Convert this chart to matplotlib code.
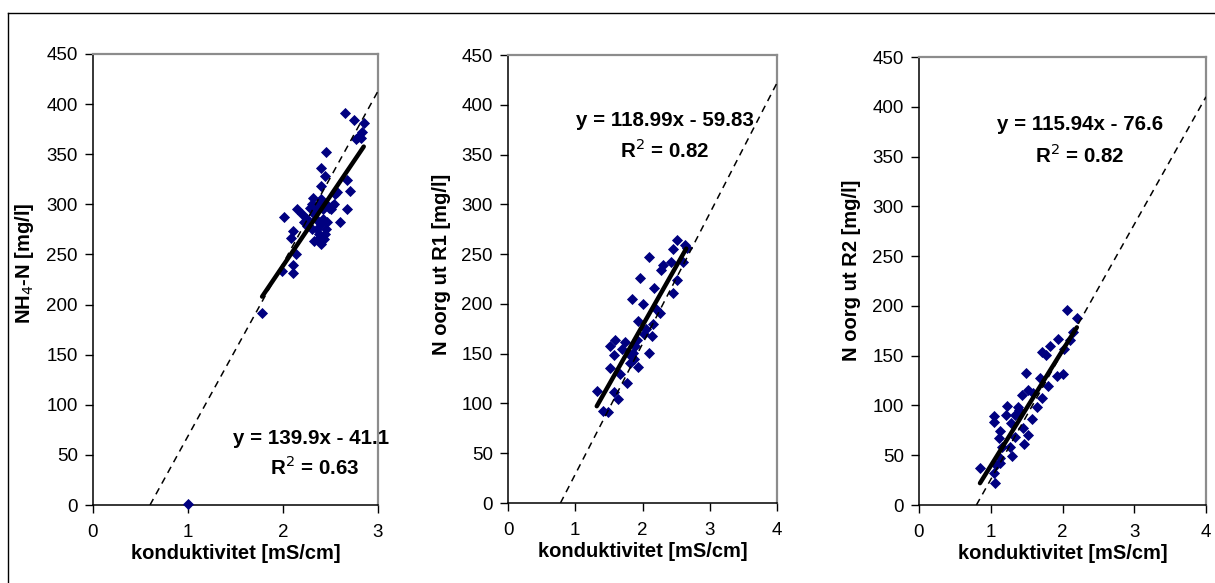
import matplotlib
matplotlib.use("Agg")
import matplotlib.pyplot as plt
from matplotlib.lines import Line2D
import numpy as np

plt.rcParams['font.family'] = ['Liberation Sans', 'DejaVu Sans']

# ---- data ----
p1_x = [1.00, 1.78, 1.99, 2.10, 2.11, 2.14, 2.08, 2.10, 2.01, 2.15, 2.20, 2.22, 2.25, 2.28,
        2.30, 2.32, 2.33, 2.35, 2.36, 2.37, 2.33, 2.40, 2.38, 2.40, 2.42, 2.44, 2.45, 2.46,
        2.42, 2.38, 2.40, 2.45, 2.48, 2.50, 2.52, 2.54, 2.55, 2.57, 2.40, 2.44, 2.40, 2.45,
        2.60, 2.67, 2.70, 2.67, 2.65, 2.75, 2.85, 2.83, 2.79, 2.77, 2.82, 2.30, 2.35, 2.25,
        2.43]
p1_y = [1, 192, 233, 231, 239, 250, 266, 273, 287, 295, 290, 282, 278, 296,
        300, 306, 290, 285, 275, 265, 263, 260, 270, 280, 285, 270, 275, 282,
        295, 300, 305, 300, 296, 295, 298, 300, 310, 312, 318, 328, 336, 352,
        282, 295, 313, 324, 391, 384, 381, 372, 367, 365, 366, 275, 295, 285,
        265]

p2_x = [2.52, 2.45, 2.63, 2.66, 2.60, 2.42, 2.31, 2.27, 2.52, 2.45, 2.09, 1.97, 2.17, 2.01,
        1.85, 2.26, 2.16, 2.14, 2.09, 1.94, 2.02, 1.92, 1.89, 1.86, 1.94, 1.81, 1.74, 1.70,
        1.59, 1.52, 1.57, 1.67, 1.77, 1.51, 1.33, 1.57, 1.64, 1.42, 1.49, 1.80, 1.88, 2.05,
        2.20]
p2_y = [264, 255, 259, 256, 242, 242, 239, 234, 224, 211, 247, 226, 216, 200,
        205, 191, 180, 168, 151, 183, 170, 164, 158, 151, 137, 141, 162, 155,
        164, 158, 149, 130, 121, 136, 113, 111, 104, 92, 91, 150, 145, 175,
        195]

p3_x = [2.06, 2.20, 2.15, 2.11, 1.94, 2.02, 1.83, 1.77, 1.71, 1.92, 2.00, 1.80, 1.69, 1.49,
        1.72, 1.52, 1.43, 1.65, 1.38, 1.58, 1.23, 1.21, 1.05, 1.05, 1.13, 1.12, 1.28, 1.34,
        1.45, 1.52, 1.46, 1.27, 1.29, 1.13, 1.13, 1.08, 1.05, 1.06, 0.85, 1.15, 1.34, 1.40,
        1.59]
p3_y = [196, 188, 174, 166, 167, 157, 160, 151, 154, 130, 132, 120, 128, 133,
        107, 116, 110, 98, 98, 86, 99, 90, 89, 83, 74, 67, 82, 68,
        77, 70, 61, 58, 49, 47, 42, 40, 32, 22, 37, 58, 90, 95,
        112]

ylabels = ["NH$_4$-N [mg/l]", "N oorg ut R1 [mg/l]", "N oorg ut R2 [mg/l]"]
xlabel = "konduktivitet [mS/cm]"
xmax = [3, 4, 4]
fit_slope = [139.9, 118.99, 115.94]
fit_icpt = [-41.1, -59.83, -76.6]
fit_xrange = [(1.78, 2.85), (1.32, 2.65), (0.85, 2.20)]
eq_texts = ["y = 139.9x - 41.1", "y = 118.99x - 59.83", "y = 115.94x - 76.6"]
r2_texts = ["R$^2$ = 0.63", "R$^2$ = 0.82", "R$^2$ = 0.82"]
# dashed reference lines: (x at y=0, y at x=xmax)
ref_x0 = [0.60, 0.78, 0.80]
ref_yend = [413, 422, 410]

data = [(p1_x, p1_y), (p2_x, p2_y), (p3_x, p3_y)]

# ---- layout (pixel coordinates) ----
W, H = 1215, 583
fig = plt.figure(figsize=(W / 100, H / 100), dpi=100)
boxes = [(93, 378, 54, 505), (508, 777, 55, 503), (919, 1206, 57, 505)]
eq_pos = [((311, 438), (315, 467)), ((665, 120), (665, 150)), ((1080, 125), (1080, 155))]
ylab_pos = [(36, 263), (451, 264), (861, 270)]

# outer frame (left and top edges visible)
fig.add_artist(Line2D([8 / W, 8 / W], [0, 1 - 13 / H], color='black', lw=1.0,
                      transform=fig.transFigure))
fig.add_artist(Line2D([8 / W, 1], [1 - 13 / H, 1 - 13 / H], color='black', lw=1.0,
                      transform=fig.transFigure))

for i, (l, r, t, b) in enumerate(boxes):
    ax = fig.add_axes([l / W, 1 - b / H, (r - l) / W, (b - t) / H])
    x, y = data[i]
    ax.set_xlim(0, xmax[i])
    ax.set_ylim(0, 450)
    ax.scatter(x, y, marker='D', s=32, color='#000080', linewidths=0, zorder=3, clip_on=False)
    # dashed reference line
    ax.plot([ref_x0[i], xmax[i]], [0, ref_yend[i]], color='black', lw=1.1,
            linestyle=(0, (4.5, 3.5)), zorder=4)
    # fitted trend line
    fx = np.array(fit_xrange[i])
    ax.plot(fx, fit_slope[i] * fx + fit_icpt[i], color='black', lw=3.2,
            solid_capstyle='round', zorder=5)
    ax.set_xticks(range(0, xmax[i] + 1))
    ax.set_yticks(range(0, 451, 50))
    ax.tick_params(direction='out', length=6, width=1, labelsize=13.5, color='black')
    ax.tick_params(axis='y', pad=5)
    ax.tick_params(axis='x', pad=8)
    for s in ['left', 'bottom']:
        ax.spines[s].set_color('black')
        ax.spines[s].set_linewidth(1.1)
    for s in ['top', 'right']:
        ax.spines[s].set_color('#8c8c8c')
        ax.spines[s].set_linewidth(1.6)
    ax.set_xlabel(xlabel, fontsize=14.5, fontweight='bold', labelpad=2)
    ax.set_ylabel(ylabels[i], fontsize=14.5, fontweight='bold')
    lx, ly = ylab_pos[i]
    ax.yaxis.set_label_coords(lx / W, 1 - ly / H, transform=fig.transFigure)
    (ex, ey), (rx, ry) = eq_pos[i]
    ax.text(ex / W, 1 - ey / H, eq_texts[i], transform=fig.transFigure, ha='center',
            va='center', fontsize=14.8, fontweight='bold', zorder=2)
    ax.text(rx / W, 1 - ry / H, r2_texts[i], transform=fig.transFigure, ha='center',
            va='center', fontsize=14.8, fontweight='bold', zorder=2)

fig.savefig("out.png", dpi=100)
